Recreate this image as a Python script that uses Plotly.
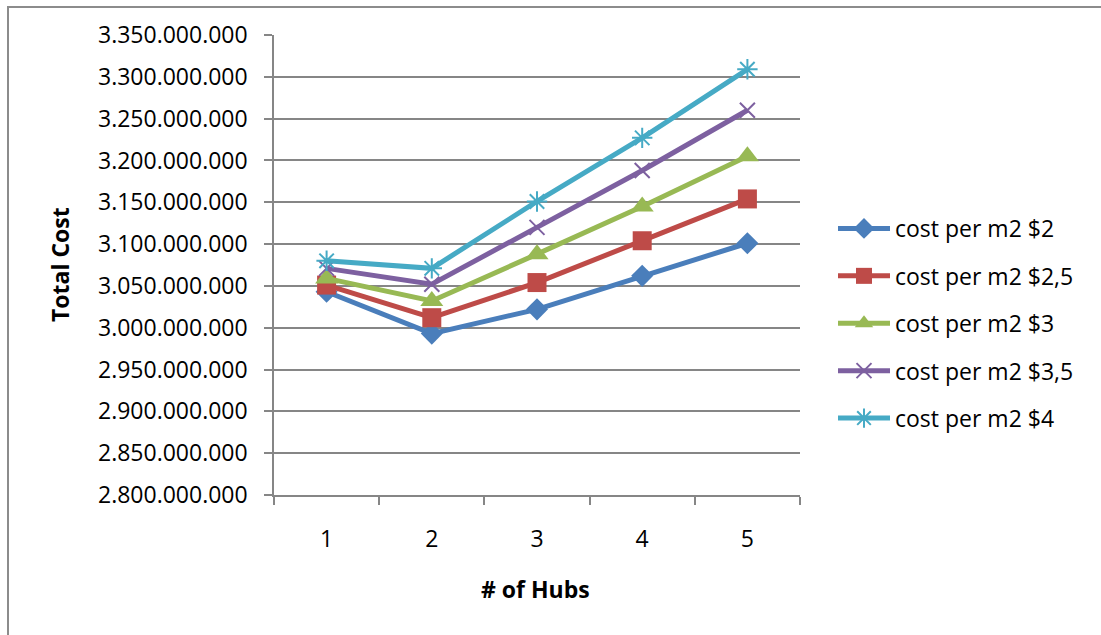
import plotly.graph_objects as go

# Number of hubs on the x axis
hubs = ["1", "2", "3", "4", "5"]

# Total cost per scenario (cost per m2)
cost_2 = [3043000000, 2993000000, 3022000000, 3062000000, 3101000000]
cost_2_5 = [3051000000, 3012000000, 3054000000, 3104000000, 3154000000]
cost_3 = [3059000000, 3032000000, 3088000000, 3145000000, 3205000000]
cost_3_5 = [3071000000, 3052000000, 3120000000, 3188000000, 3260000000]
cost_4 = [3080000000, 3071000000, 3151000000, 3227000000, 3309000000]

series_names = [
    "cost per m2 $2",
    "cost per m2 $2,5",
    "cost per m2 $3",
    "cost per m2 $3,5",
    "cost per m2 $4",
]
series_values = [cost_2, cost_2_5, cost_3, cost_3_5, cost_4]

colors = ["#4A7EBB", "#BE4B48", "#98B954", "#7D60A0", "#46AAC5"]
symbols = ["diamond", "square", "triangle-up", "x-thin", "asterisk"]
sizes = [17, 19, 20, 15, 17]

FONT = "Open Sans"
FS = 23

fig = go.Figure()
for name, vals, col, sym, sz in zip(series_names, series_values, colors, symbols, sizes):
    thin = sym in ("x-thin", "asterisk")
    fig.add_trace(go.Scatter(
        x=hubs, y=vals, name=name, mode="lines+markers",
        legendgroup=name,
        line=dict(color=col, width=5),
        marker=dict(symbol=sym, size=sz, color=col,
                    line=dict(color=col, width=2 if thin else 0)),
    ))

L, R, T, B = 274, 800, 35, 495
W, H = 1101, 635

fig.update_layout(
    width=W, height=H,
    margin=dict(l=L, r=W - R, t=T, b=H - B, pad=0),
    paper_bgcolor="white", plot_bgcolor="white",
    separators=",.",
    font=dict(family=FONT, size=FS, color="black"),
    showlegend=True,
    legend=dict(
        x=(833 - L) / (R - L), y=(495 - 207) / (B - T),
        xanchor="left", yanchor="top",
        font=dict(family=FONT, size=FS, color="black"),
        tracegroupgap=14.5, itemwidth=52,
        bgcolor="rgba(0,0,0,0)",
    ),
    xaxis=dict(
        type="category", range=[-0.5, 4.5],
        showgrid=False, zeroline=False,
        showline=True, linecolor="#868686", linewidth=1.5,
        ticks="outside", tickson="boundaries", ticklen=8,
        tickcolor="#868686", tickwidth=1.5,
        ticklabelstandoff=23,
        tickfont=dict(family=FONT, size=FS),
    ),
    yaxis=dict(
        range=[2800000000, 3350000000], dtick=50000000,
        tickformat=",d",
        showgrid=True, gridcolor="#868686", gridwidth=1.5,
        zeroline=False,
        showline=True, linecolor="#868686", linewidth=1.5,
        ticks="outside", ticklen=8, tickcolor="#868686", tickwidth=1.5,
        ticklabelstandoff=12,
        tickfont=dict(family=FONT, size=FS),
    ),
)

# Axis titles
fig.add_annotation(
    text="<b># of Hubs</b>", xref="paper", yref="paper",
    x=(535 - L) / (R - L), y=(B - 589) / (B - T),
    showarrow=False, xanchor="center", yanchor="middle",
    font=dict(family=FONT, size=FS),
)
fig.add_annotation(
    text="<b>Total Cost</b>", xref="paper", yref="paper",
    x=(60 - L) / (R - L), y=(B - 265) / (B - T),
    showarrow=False, xanchor="center", yanchor="middle", textangle=-90,
    font=dict(family=FONT, size=FS),
)

# Chart frame
fig.add_shape(type="rect", xref="paper", yref="paper",
              x0=(8 - L) / (R - L), x1=(1110 - L) / (R - L),
              y0=(B - 645) / (B - T), y1=(B - 7) / (B - T),
              line=dict(color="#8C8C8C", width=2), layer="below")

fig.write_html("out.html")
